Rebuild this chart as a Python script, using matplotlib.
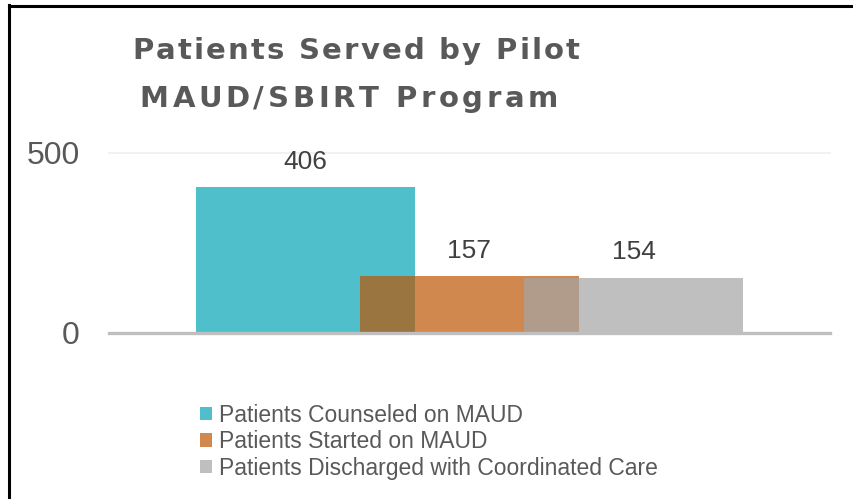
import matplotlib
matplotlib.use('Agg')
import matplotlib.pyplot as plt
from matplotlib.lines import Line2D
from matplotlib.patches import Patch

# data
series = ['Patients Counseled on MAUD', 'Patients Started on MAUD',
          'Patients Discharged with Coordinated Care']
values = [406, 157, 154]
colors = ['#04A5B5', '#BC5604', '#A4A4A4']   # drawn at alpha 0.7
offsets = [-0.75, 0.0, 0.75]
title_lines = ['Patients Served by Pilot', 'MAUD/SBIRT Program']

plt.rcParams['font.family'] = ['Liberation Sans', 'DejaVu Sans']

fig = plt.figure(figsize=(8.54, 4.99), dpi=100)
fig.patch.set_facecolor('white')
ax = fig.add_axes([0.1276, 0.3327, 0.8443, 0.3607])

for v, c, off in zip(values, colors, offsets):
    ax.bar(off, v, width=1.0, color=c, alpha=0.7, linewidth=0, zorder=3)
    ax.text(off, v + 70, str(v), ha='center', va='center', fontsize=19,
            color='#404040', zorder=4, clip_on=False)

ax.set_xlim(-1.646, 1.646)
ax.set_ylim(0, 500)
ax.set_yticks([0, 500])
ax.set_xticks([])
ax.axhline(500, color='#EFEFEF', lw=1.2, zorder=1, clip_on=False)
ax.axhline(0, color='#BFBFBF', lw=2.4, zorder=5, clip_on=False)
for s in ax.spines.values():
    s.set_visible(False)
ax.tick_params(axis='y', length=0, labelsize=23, labelcolor='#595959', pad=21)

# title, letter-spaced
renderer = fig.canvas.get_renderer()
tkw = dict(fontsize=21, fontweight='bold', color='#595959', family='DejaVu Sans')


def text_w(s):
    t = fig.text(0, 0, s, **tkw)
    w = t.get_window_extent(renderer).width
    t.remove()
    return w


def spaced_title(s, xc, yc, gap):
    widths = []
    for ch in s:
        if ch == ' ':
            widths.append(text_w('a a') - text_w('aa'))
        else:
            widths.append(text_w(ch))
    total = sum(widths) + gap * (len(s) - 1)
    x = xc * fig.bbox.width - total / 2
    for ch, w in zip(s, widths):
        if ch != ' ':
            fig.text(x / fig.bbox.width, yc, ch, ha='left', va='center', **tkw)
        x += w + gap


spaced_title(title_lines[0], 0.4168, 0.898, 2.2)
spaced_title(title_lines[1], 0.4086, 0.802, 3.6)

# legend
handles = [Patch(facecolor=c, alpha=0.7, edgecolor='none') for c in colors]
leg = fig.legend(handles, series, loc='upper left', bbox_to_anchor=(0.234, 0.191),
                 frameon=False, fontsize=16.5, handlelength=0.55, handleheight=0.55,
                 handletextpad=0.3, labelspacing=0.15, borderpad=0, borderaxespad=0)
for t in leg.get_texts():
    t.set_color('#595959')

# outer frame (left and top edges only visible)
fig.add_artist(Line2D([0.0105, 0.0105], [0, 0.99], color='black', lw=2.2,
                      transform=fig.transFigure))
fig.add_artist(Line2D([0.0105, 1.0], [0.9885, 0.9885], color='black', lw=2.2,
                      transform=fig.transFigure))

plt.savefig('out.png', dpi=100, facecolor='white')
